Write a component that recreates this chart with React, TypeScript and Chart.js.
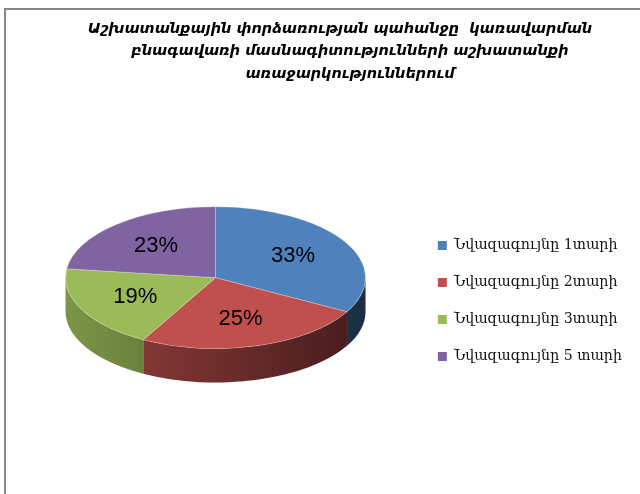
import React, { useEffect, useRef } from "react";
import { Chart, registerables } from "chart.js";

Chart.register(...registerables);

const titleLines = [
  "Աշխատանքային փորձառության պահանջը  կառավարման    ",
  "բնագավառի մասնագիտությունների աշխատանքի",
  "առաջարկություններում",
];
const categories = [
  "Նվազագույնը 1տարի",
  "Նվազագույնը 2տարի",
  "Նվազագույնը 3տարի",
  "Նվազագույնը 5 տարի",
];
const shares = [33, 25, 19, 23];
const sliceColors = ["#4F81BD", "#C0504D", "#9BBB59", "#8064A2"];

const DEPTH = 34;
const TILT = 0.473;
const LABEL_K = 0.6;

function shade(hex: string, f: number) {
  const n = parseInt(hex.slice(1), 16);
  const r = Math.round(((n >> 16) & 255) * f);
  const g = Math.round(((n >> 8) & 255) * f);
  const b = Math.round((n & 255) * f);
  return `rgb(${r},${g},${b})`;
}

const pie3d = {
  id: "pie3d",
  beforeDatasetsDraw(chart: any) {
    const meta = chart.getDatasetMeta(0);
    const arcs = meta.data as any[];
    if (!arcs.length) return;
    const ctx = chart.ctx as CanvasRenderingContext2D;
    const { x: cx, y: cy, outerRadius: r } = arcs[0];
    const rx = r;
    const ry = r * TILT;
    const top = cy - DEPTH * 0.69;
    chart.$pie3d = { cx, cy, rx, ry, top };
    ctx.save();
    arcs.forEach((arc, i) => {
      const s = arc.startAngle;
      const e = arc.endAngle;
      const ranges: [number, number][] = [];
      for (const shift of [0, 2 * Math.PI]) {
        const a = Math.max(s, shift);
        const b = Math.min(e, shift + Math.PI);
        if (b > a) ranges.push([a - shift, b - shift]);
      }
      const col = chart.data.datasets[0].backgroundColor[i];
      for (const [a, b] of ranges) {
        const grad = ctx.createLinearGradient(cx - rx, 0, cx + rx, 0);
        grad.addColorStop(0, shade(col, 0.8));
        grad.addColorStop(0.5, shade(col, 0.58));
        grad.addColorStop(1, shade(col, 0.35));
        ctx.beginPath();
        ctx.ellipse(cx, top, rx, ry, 0, a, b, false);
        ctx.lineTo(cx + rx * Math.cos(b), top + DEPTH + ry * Math.sin(b));
        ctx.ellipse(cx, top + DEPTH, rx, ry, 0, b, a, true);
        ctx.closePath();
        ctx.fillStyle = grad;
        ctx.fill();
      }
    });
    ctx.restore();
    ctx.save();
    ctx.translate(cx, top);
    ctx.scale(1, TILT);
    ctx.translate(-cx, -cy);
  },
  afterDatasetsDraw(chart: any) {
    const st = chart.$pie3d;
    if (!st) return;
    const ctx = chart.ctx as CanvasRenderingContext2D;
    ctx.restore();
    const arcs = chart.getDatasetMeta(0).data as any[];
    const data = chart.data.datasets[0].data as number[];
    const total = data.reduce((p, v) => p + v, 0);
    ctx.save();
    ctx.font = '22px "Liberation Sans", Arial, sans-serif';
    ctx.fillStyle = "#000";
    ctx.textAlign = "center";
    ctx.textBaseline = "middle";
    arcs.forEach((arc, i) => {
      const m = (arc.startAngle + arc.endAngle) / 2;
      const x = st.cx + LABEL_K * st.rx * Math.cos(m);
      const y = st.top + LABEL_K * st.ry * Math.sin(m);
      ctx.fillText(Math.round((data[i] / total) * 100) + "%", x, y);
    });
    ctx.restore();
  },
};

export default function App() {
  const ref = useRef<HTMLCanvasElement | null>(null);
  useEffect(() => {
    if (!ref.current) return;
    const chart = new Chart(ref.current, {
      type: "pie",
      data: {
        labels: categories,
        datasets: [
          {
            data: shares,
            backgroundColor: sliceColors,
            borderColor: "rgba(255,255,255,0.35)",
            borderWidth: 1,
            radius: 150,
            clip: false as any,
          },
        ],
      },
      options: {
        responsive: false,
        animation: false,
        devicePixelRatio: 1,
        layout: { padding: { left: 68, right: 68, top: 0, bottom: 13 } },
        scales: {
          spacer: {
            type: "linear",
            position: "right",
            display: true,
            grid: { display: false },
            border: { display: false },
            ticks: { display: false },
            afterFit: (s: any) => {
              s.width = 52;
            },
          } as any,
        },
        plugins: {
          title: {
            display: true,
            text: titleLines,
            color: "#000",
            font: {
              family: '"DejaVu Sans", sans-serif',
              size: 14.5,
              weight: "bold",
              style: "italic",
              lineHeight: 1.545,
            },
            padding: { top: 18, bottom: 10 },
          },
          legend: {
            position: "right",
            fullSize: false,
            maxWidth: 400,
            labels: {
              boxWidth: 9,
              boxHeight: 9,
              padding: 22.8,
              color: "#111",
              font: { family: '"DejaVu Serif", serif', size: 14.2 },
              generateLabels: (c: any) =>
                (Chart as any).overrides.pie.plugins.legend.labels
                  .generateLabels(c)
                  .map((l: any) => ({ ...l, lineWidth: 0, strokeStyle: "transparent" })),
            },
          },
          tooltip: { enabled: false },
        },
      },
      plugins: [pie3d],
    });
    return () => chart.destroy();
  }, []);
  return (
    <div
      style={{
        position: "fixed",
        left: 0,
        top: 0,
        width: 640,
        height: 494,
        overflow: "hidden",
        background: "#fff",
      }}
    >
      <div
        style={{
          position: "absolute",
          left: 4,
          top: 8,
          width: 800,
          height: 600,
          borderLeft: "2px solid #878787",
          borderTop: "2px solid #878787",
        }}
      />
      <canvas
        ref={ref}
        width={700}
        height={520}
        style={{ position: "absolute", left: 0, top: 0 }}
      />
    </div>
  );
}
